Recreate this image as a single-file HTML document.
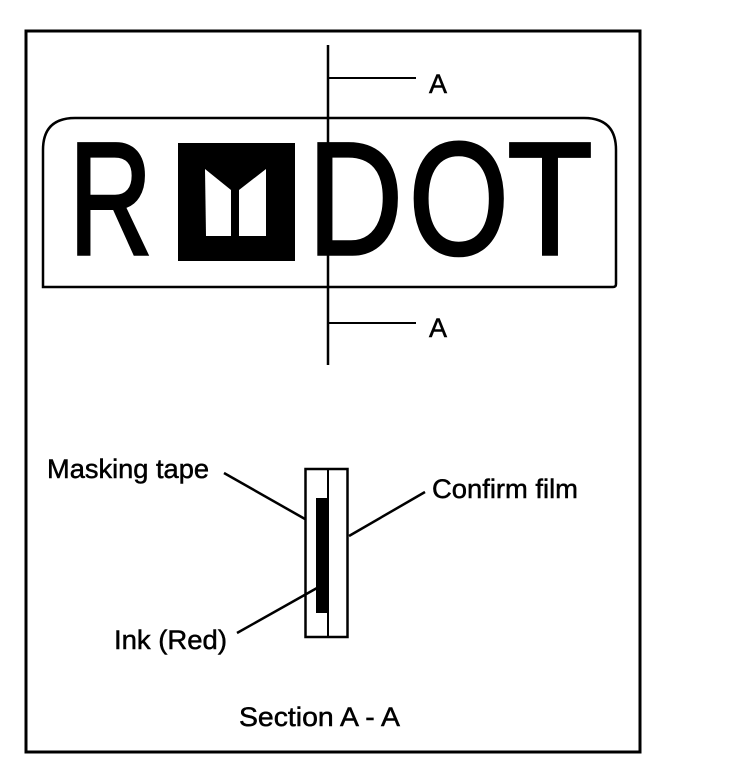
<!DOCTYPE html>
<html>
<head>
<meta charset="utf-8">
<style>
html,body{margin:0;padding:0;background:#fff;width:736px;height:766px;overflow:hidden}
svg{display:block}
text{font-family:"Liberation Sans",sans-serif;fill:#000}
</style>
</head>
<body>
<svg width="736" height="766" viewBox="0 0 736 766" xmlns="http://www.w3.org/2000/svg">
<rect x="26" y="31" width="614" height="721" fill="none" stroke="#000" stroke-width="3"/>
<path d="M43 287 V150 Q43 118 75 118 H584 Q616 118 616 150 V284 Q616 287 613 287 Z" fill="none" stroke="#000" stroke-width="2.5"/>
<g style="font-size:160px" stroke="#000" stroke-width="3.500">
<text transform="translate(69,254) scale(.72,1)">R</text>
<text transform="translate(308,254) scale(.82,1)">D</text>
<text transform="translate(409,254) scale(.8,1)">O</text>
<text transform="translate(507.500,254) scale(.87,1)">T</text>
</g>
<rect x="178" y="143" width="117" height="118" fill="#000"/>
<polygon points="205,169 231,190 231,236 206,236" fill="#fff"/>
<polygon points="266,169 239,190 239,236 266,236" fill="#fff"/>
<line x1="328" y1="45" x2="328" y2="365" stroke="#000" stroke-width="2.500"/>
<line x1="328" y1="78" x2="416" y2="78" stroke="#000" stroke-width="2"/>
<line x1="328" y1="323" x2="416" y2="323" stroke="#000" stroke-width="2"/>
<g stroke="#000" stroke-width=".5">
<text x="429" y="93" style="font-size:27px">A</text>
<text x="429" y="337" style="font-size:27px">A</text>
<text x="47" y="478" style="font-size:27px" textLength="162" lengthAdjust="spacingAndGlyphs">Masking tape</text>
<text x="432" y="498" style="font-size:27px" textLength="146" lengthAdjust="spacingAndGlyphs">Confirm film</text>
<text x="114" y="649" style="font-size:27px" textLength="113" lengthAdjust="spacingAndGlyphs">Ink (Red)</text>
<text x="239" y="726" style="font-size:27px" textLength="161" lengthAdjust="spacingAndGlyphs">Section A - A</text>
</g>
<rect x="305.500" y="469" width="42" height="168" fill="none" stroke="#000" stroke-width="2.500"/>
<line x1="328" y1="469" x2="328" y2="637" stroke="#000" stroke-width="2"/>
<rect x="316" y="498" width="13" height="115" fill="#000"/>
<line x1="224" y1="473" x2="305" y2="519" stroke="#000" stroke-width="2.500"/>
<line x1="425" y1="492" x2="349" y2="536" stroke="#000" stroke-width="2.500"/>
<line x1="237" y1="633" x2="317" y2="588" stroke="#000" stroke-width="2.500"/>
</svg>
</body>
</html>
